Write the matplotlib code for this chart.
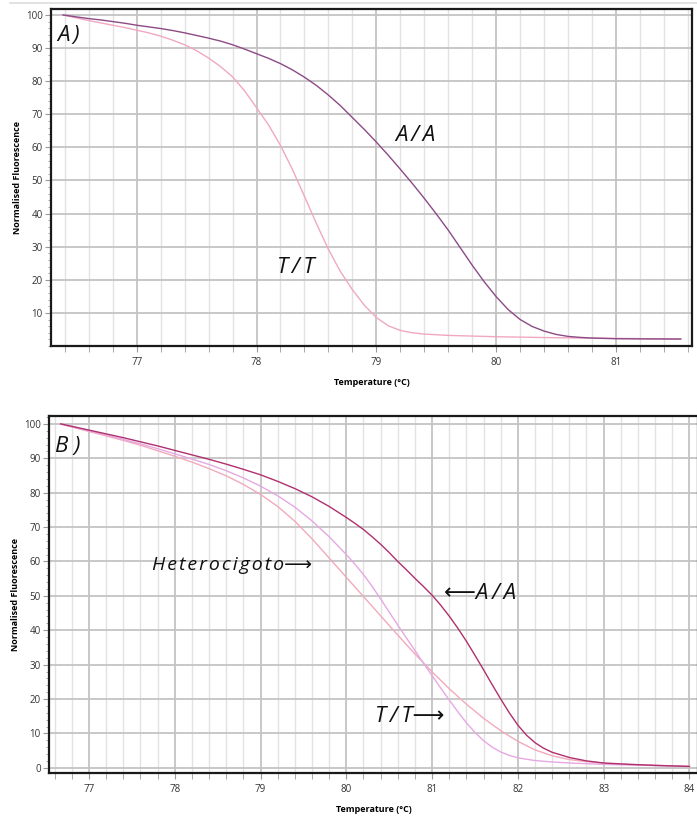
import numpy as np
import matplotlib
matplotlib.use('Agg')
import matplotlib.pyplot as plt
from matplotlib.ticker import MultipleLocator
from matplotlib.lines import Line2D

# panel A: melting curves (temperature in C, normalised fluorescence)
a_aa_temp = [76.385, 76.5, 76.6, 76.7, 76.8, 76.9, 77.0, 77.1, 77.2, 77.3, 77.4, 77.5,
             77.6, 77.7, 77.8, 77.9, 78.0, 78.1, 78.2, 78.3, 78.4, 78.5, 78.6, 78.7,
             78.8, 78.9, 79.0, 79.1, 79.2, 79.3, 79.4, 79.5, 79.6, 79.7, 79.8, 79.9,
             80.0, 80.1, 80.2, 80.3, 80.4, 80.5, 80.6, 80.7, 80.8, 81.0, 81.2, 81.54]
a_aa_fluo = [100, 99.4, 98.9, 98.5, 98.0, 97.5, 96.9, 96.4, 95.9, 95.3, 94.6, 93.8,
             93.0, 92.1, 91.0, 89.7, 88.3, 86.9, 85.3, 83.4, 81.2, 78.7, 75.8, 72.6,
             69.0, 65.4, 61.6, 57.6, 53.4, 49.1, 44.6, 39.9, 35.0, 29.7, 24.4, 19.4,
             14.9, 11.0, 8.0, 5.9, 4.5, 3.5, 2.9, 2.6, 2.4, 2.2, 2.15, 2.1]
a_tt_temp = [76.385, 76.5, 76.6, 76.7, 76.8, 76.9, 77.0, 77.1, 77.2, 77.3, 77.4, 77.5,
             77.6, 77.7, 77.8, 77.9, 78.0, 78.1, 78.2, 78.3, 78.4, 78.5, 78.6, 78.7,
             78.8, 78.9, 79.0, 79.1, 79.2, 79.3, 79.4, 79.6, 80.0, 80.5, 81.0, 81.54]
a_tt_fluo = [100, 99.1, 98.3, 97.6, 96.9, 96.2, 95.4, 94.6, 93.6, 92.4, 91.0, 89.2,
             87.0, 84.4, 81.3, 77.1, 72.0, 66.8, 60.6, 53.3, 45.2, 37.0, 29.2, 22.5,
             17.0, 12.3, 8.6, 6.1, 4.7, 4.0, 3.6, 3.2, 2.8, 2.5, 2.3, 2.1]

# panel B
b_aa_temp = [76.67, 76.8, 77.0, 77.2, 77.4, 77.6, 77.8, 78.0, 78.2, 78.4, 78.6, 78.8,
             79.0, 79.2, 79.4, 79.6, 79.8, 80.0, 80.1, 80.2, 80.3, 80.4, 80.5, 80.6,
             80.7, 80.8, 80.9, 81.0, 81.1, 81.2, 81.3, 81.4, 81.5, 81.6, 81.7, 81.8,
             81.9, 82.0, 82.1, 82.2, 82.3, 82.4, 82.6, 82.8, 83.0, 83.3, 83.6, 84.0]
b_aa_fluo = [100, 99.3, 98.2, 97.1, 96.0, 94.8, 93.6, 92.3, 91.0, 89.7, 88.3, 86.8,
             85.2, 83.3, 81.2, 78.8, 76.0, 72.8, 71.1, 69.3, 67.2, 65.0, 62.6, 60.0,
             57.6, 55.1, 52.7, 50.2, 47.3, 44.1, 40.6, 36.8, 32.7, 28.5, 24.2, 20.0,
             16.0, 12.4, 9.5, 7.3, 5.7, 4.5, 3.0, 2.0, 1.4, 1.0, 0.7, 0.4]
b_tt_temp = [76.67, 76.8, 77.0, 77.2, 77.4, 77.6, 77.8, 78.0, 78.2, 78.4, 78.6, 78.8,
             79.0, 79.2, 79.4, 79.6, 79.8, 80.0, 80.1, 80.2, 80.3, 80.4, 80.5, 80.6,
             80.7, 80.8, 80.9, 81.0, 81.1, 81.2, 81.3, 81.4, 81.5, 81.6, 81.7, 81.8,
             81.9, 82.0, 82.2, 82.4, 82.6, 83.0, 83.5, 84.0]
b_tt_fluo = [100, 99.2, 98.0, 96.8, 95.5, 94.2, 92.8, 91.3, 89.8, 88.2, 86.4, 84.3,
             81.9, 79.1, 75.8, 71.8, 67.2, 62.0, 59.2, 56.2, 52.8, 49.1, 45.3, 41.5,
             37.8, 34.1, 30.4, 26.8, 23.2, 19.7, 16.3, 13.1, 10.3, 7.9, 6.0, 4.6,
             3.6, 2.9, 2.1, 1.7, 1.4, 1.0, 0.7, 0.4]
b_het_temp = [76.67, 76.8, 77.0, 77.2, 77.4, 77.6, 77.8, 78.0, 78.2, 78.4, 78.6, 78.8,
              79.0, 79.2, 79.4, 79.6, 79.8, 80.0, 80.2, 80.4, 80.6, 80.8, 81.0,
              81.2, 81.4, 81.6, 81.8, 82.0, 82.2, 82.4, 82.6, 82.8, 83.0, 83.5, 84.0]
b_het_fluo = [100, 99.1, 97.8, 96.5, 95.2, 93.8, 92.2, 90.6, 88.9, 87.0, 84.9, 82.4,
              79.5, 76.0, 71.7, 66.6, 61.0, 55.4, 49.8, 44.2, 38.6, 33.1, 27.9,
              23.0, 18.5, 14.4, 10.8, 7.7, 5.2, 3.5, 2.4, 1.8, 1.3, 0.8, 0.4]

W, H = 697, 821
fig = plt.figure(figsize=(W / 100, H / 100), dpi=100)

lab_font = {'family': ['Open Sans', 'DejaVu Sans'], 'style': 'italic', 'color': '#111111'}
TS = '\u2009'   # thin space, the labels are drawn letter-spaced
HS = '\u200a'   # hair space


def style_axes(ax, xlim, ylim, ymin_tick):
    ax.set_xlim(*xlim)
    ax.set_ylim(*ylim)
    ax.xaxis.set_major_locator(MultipleLocator(1))
    ax.xaxis.set_minor_locator(MultipleLocator(0.2))
    ax.set_yticks(np.arange(ymin_tick, 101, 10))
    ax.yaxis.set_minor_locator(MultipleLocator(2))
    ax.grid(which='minor', axis='x', color='#e2e2e2', lw=1.0)
    ax.grid(which='major', axis='x', color='#c4c4c4', lw=1.3)
    ax.grid(which='major', axis='y', color='#c4c4c4', lw=1.3)
    ax.set_axisbelow(True)
    for s in ax.spines.values():
        s.set_linewidth(1.6)
        s.set_color('#1a1a1a')
    ax.tick_params(which='both', direction='out', color='#9a9a9a', labelsize=7,
                   labelcolor='#333333')
    ax.tick_params(which='major', axis='x', length=4, pad=4)
    ax.tick_params(which='minor', axis='x', length=4)
    ax.tick_params(which='major', axis='y', length=4, pad=2)
    ax.tick_params(which='minor', axis='y', length=2)
    for t in ax.get_xticklabels() + ax.get_yticklabels():
        t.set_family(['Open Sans', 'DejaVu Sans'])
    ax.set_xlabel('Temperature (°C)', fontsize=6.5, fontweight='bold',
                  family=['Open Sans', 'DejaVu Sans'], labelpad=7)
    ax.set_ylabel('Normalised Fluorescence', fontsize=6.5, fontweight='bold',
                  family=['Open Sans', 'DejaVu Sans'], labelpad=2.5)


# ---- panel A
axA = fig.add_axes([51 / W, 1 - 346 / H, 641 / W, 337 / H])
style_axes(axA, (76.285, 81.634), (0, 101.8), 10)
axA.plot(a_tt_temp, a_tt_fluo, color='#f0a8c2', lw=1.0)
axA.plot(a_aa_temp, a_aa_fluo, color='#8c4a86', lw=1.0)
axA.text(76.335, 93.9, 'A' + TS + ')', fontsize=16, ha='left', va='center', **lab_font)
axA.text(79.16, 63.7, TS.join('A/A'), fontsize=16, ha='left', va='center', **lab_font)
axA.text(78.17, 23.6, TS.join('T/T'), fontsize=16, ha='left', va='center', **lab_font)

# ---- panel B
axB = fig.add_axes([49 / W, 1 - 773.3 / H, (698 - 49) / W, 357.3 / H])
style_axes(axB, (76.534, 84.1), (-1.6, 102.3), 0)
axB.plot(b_het_temp, b_het_fluo, color='#f2aabb', lw=1.0)
axB.plot(b_tt_temp, b_tt_fluo, color='#e6a8e2', lw=1.0)
axB.plot(b_aa_temp, b_aa_fluo, color='#b0306e', lw=1.0)
axB.text(76.60, 93.4, 'B )', fontsize=16, ha='left', va='center', **lab_font)
axB.text(77.73, 59.0, HS.join('Heterocigoto') + '\u27f6', fontsize=14, ha='left',
         va='center', **lab_font)
axB.text(81.14, 50.7, '\u27f5' + TS.join('A/A'), fontsize=16, ha='left', va='center',
         **lab_font)
axB.text(80.33, 14.8, TS.join('T/T') + '\u27f6', fontsize=16, ha='left', va='center',
         **lab_font)

# thin separator line at the very top
fig.add_artist(Line2D([10 / W, 1], [1 - 3 / H, 1 - 3 / H], color='#dddddd', lw=1.2))

fig.savefig('out.png', dpi=100)
plt.close(fig)
